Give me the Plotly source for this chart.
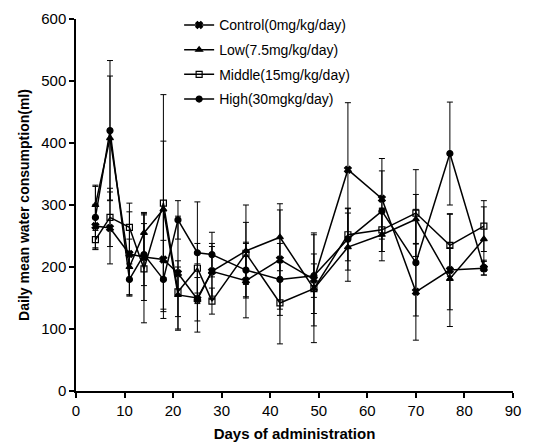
import plotly.graph_objects as go

days = [4, 7, 11, 14, 18, 21, 25, 28, 35, 42, 49, 56, 63, 70, 77, 84]

control = [266, 263, 221, 216, 212, 190, 148, 193, 178, 212, 180, 357, 310, 160, 195, 198]
control_sd = [35, 58, 68, 70, 80, 92, 35, 45, 60, 80, 75, 108, 65, 78, 91, 11]

low = [300, 408, 200, 255, 293, 155, 150, 193, 226, 248, 165, 232, 252, 277, 181, 245]
low_sd = [30, 100, 45, 33, 110, 55, 55, 40, 74, 54, 87, 55, 42, 40, 50, 52]

middle = [244, 280, 264, 197, 303, 160, 198, 145, 222, 142, 165, 252, 260, 287, 235, 266]
middle_sd = [15, 47, 39, 87, 175, 40, 40, 21, 50, 66, 40, 42, 35, 70, 50, 41]

high = [280, 420, 180, 220, 180, 276, 223, 220, 195, 180, 186, 245, 290, 207, 383, 199]
high_sd = [52, 113, 25, 50, 63, 31, 82, 36, 45, 58, 35, 50, 65, 86, 83, 12]

names = ["Control(0mg/kg/day)", "Low(7.5mg/kg/day)", "Middle(15mg/kg/day)", "High(30mgkg/day)"]
series = [control, low, middle, high]
sds = [control_sd, low_sd, middle_sd, high_sd]
symbols = ["x", "triangle-up", "square-open", "circle"]
sizes = [6, 6, 6, 6]

fig = go.Figure()
for i, (nm, ys, sd, sym, sz) in enumerate(zip(names, series, sds, symbols, sizes)):
    fig.add_trace(go.Scatter(
        x=days, y=ys, name=nm, mode="lines+markers",
        legendgroup=f"g{i}",
        line=dict(color="black", width=1.5),
        marker=dict(symbol=sym, size=sz, color="black",
                    line=dict(color="black", width=1.2)),
        error_y=dict(type="data", array=sd, visible=True,
                     color="black", thickness=1, width=3),
    ))

font_main = "Liberation Sans, Arial, sans-serif"
fig.update_layout(
    width=542, height=442,
    margin=dict(l=76, r=29, t=19, b=51, autoexpand=False),
    paper_bgcolor="white", plot_bgcolor="white",
    font=dict(family=font_main, color="black", size=14),
    showlegend=True,
    hovermode=False,
    legend=dict(
        x=0.236, y=1.026, xanchor="left", yanchor="top",
        bgcolor="rgba(0,0,0,0)", borderwidth=0,
        font=dict(size=14, family=font_main),
        tracegroupgap=3.5, itemwidth=30,
    ),
    xaxis=dict(
        range=[0, 90], tickvals=[0, 10, 20, 30, 40, 50, 60, 70, 80, 90],
        showline=True, linecolor="black", linewidth=1.5,
        ticks="outside", ticklen=5, tickcolor="black", tickwidth=1.5,
        showgrid=False, zeroline=False, automargin=False,
        tickfont=dict(size=15),
        title=dict(text="<b>Days of administration</b>", font=dict(size=15), standoff=22),
    ),
    yaxis=dict(
        range=[0, 600], tickvals=[0, 100, 200, 300, 400, 500, 600],
        showline=True, linecolor="black", linewidth=1.5,
        ticks="outside", ticklen=5, tickcolor="black", tickwidth=1.5,
        showgrid=False, zeroline=False, automargin=False,
        tickfont=dict(size=15),
        title=dict(text="<b>Daily mean water consumption(ml)</b>", font=dict(size=14), standoff=8),
    ),
)

fig.write_html("out.html")
